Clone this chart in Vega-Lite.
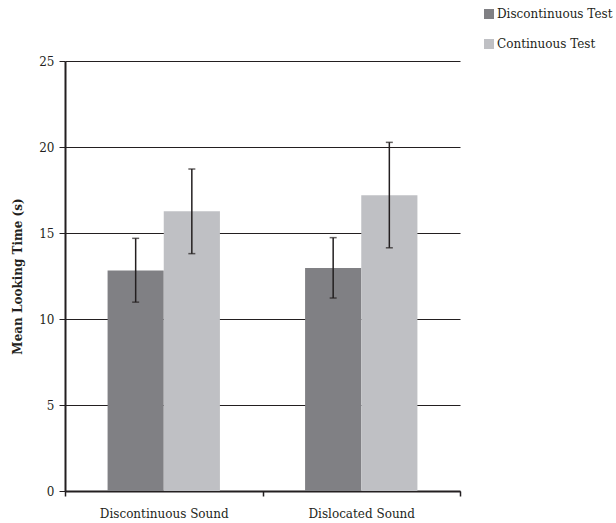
{
  "$schema": "https://vega.github.io/schema/vega-lite/v6.json",
  "width": 395,
  "height": 430,
  "autosize": {"type": "none"},
  "padding": {"left": 65, "top": 61, "right": 156, "bottom": 32},
  "background": "white",
  "config": {
    "view": {"stroke": null},
    "font": "DejaVu Serif",
    "axis": {"labelFont": "DejaVu Serif", "labelFontSize": 12, "labelColor": "#231f20", "titleFont": "DejaVu Serif", "titleColor": "#231f20"},
    "legend": {"labelFont": "DejaVu Serif", "labelFontSize": 12, "labelColor": "#231f20"}
  },
  "data": {
    "values": [
      {"sound": "Discontinuous Sound", "test": "Discontinuous Test", "mean": 12.82, "lo": 10.98, "hi": 14.69},
      {"sound": "Discontinuous Sound", "test": "Continuous Test", "mean": 16.26, "lo": 13.80, "hi": 18.72},
      {"sound": "Dislocated Sound", "test": "Discontinuous Test", "mean": 12.96, "lo": 11.22, "hi": 14.73},
      {"sound": "Dislocated Sound", "test": "Continuous Test", "mean": 17.19, "lo": 14.14, "hi": 20.27}
    ]
  },
  "encoding": {
    "x": {
      "field": "sound", "type": "nominal", "sort": ["Discontinuous Sound", "Dislocated Sound"],
      "scale": {"paddingInner": 0, "paddingOuter": 0},
      "axis": {"title": null, "labelAngle": 0, "tickBand": "extent", "domainColor": "#231f20", "domainWidth": 2, "tickColor": "#231f20", "tickWidth": 1.5, "tickSize": 5, "labelPadding": 12, "grid": false}
    },
    "xOffset": {
      "field": "test", "type": "nominal", "sort": ["Discontinuous Test", "Continuous Test"],
      "scale": {"paddingInner": 0, "paddingOuter": 0.758}
    }
  },
  "layer": [
    {
      "mark": {"type": "bar"},
      "encoding": {
        "y": {
          "field": "mean", "type": "quantitative",
          "scale": {"domain": [0, 25], "nice": false},
          "axis": {"title": "Mean Looking Time (s)", "titleFontWeight": "bold", "titleFontSize": 12, "titlePadding": 14, "values": [0, 5, 10, 15, 20, 25], "grid": true, "gridColor": "#231f20", "gridWidth": 1, "gridOpacity": 1, "domainColor": "#231f20", "domainWidth": 2, "tickColor": "#231f20", "tickWidth": 1, "tickSize": 6, "labelPadding": 5}
        },
        "color": {
          "field": "test", "type": "nominal",
          "sort": ["Discontinuous Test", "Continuous Test"],
          "scale": {"domain": ["Discontinuous Test", "Continuous Test"], "range": ["#808084", "#bfc0c4"]},
          "legend": {"title": null, "orient": "none", "legendX": 418, "legendY": -53, "symbolType": "square", "symbolSize": 100, "symbolStrokeWidth": 0, "rowPadding": 18, "labelOffset": 2}
        }
      }
    },
    {
      "mark": {"type": "rule", "color": "#231f20", "strokeWidth": 1.5},
      "encoding": {
        "y": {"field": "lo", "type": "quantitative"},
        "y2": {"field": "hi"}
      }
    },
    {
      "mark": {"type": "tick", "color": "#231f20", "thickness": 1.5, "size": 7},
      "encoding": {"y": {"field": "hi", "type": "quantitative"}}
    },
    {
      "mark": {"type": "tick", "color": "#231f20", "thickness": 1.5, "size": 7},
      "encoding": {"y": {"field": "lo", "type": "quantitative"}}
    }
  ]
}
